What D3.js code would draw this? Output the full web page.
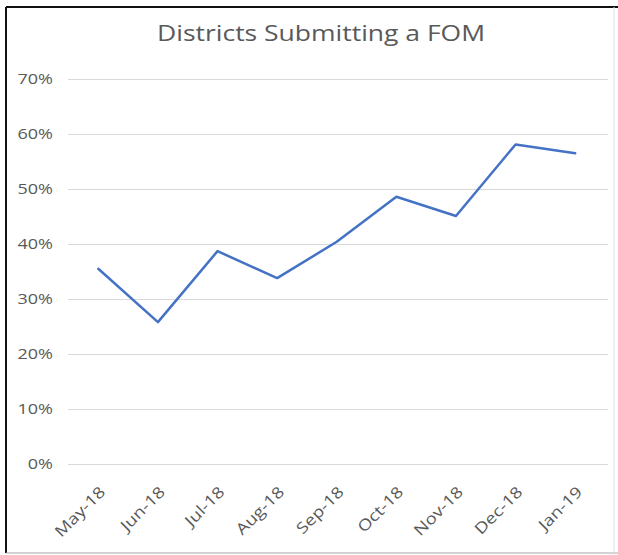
<!DOCTYPE html>
<html><head><meta charset="utf-8">
<script src="https://cdn.jsdelivr.net/npm/d3@7"></script>
<style>body{margin:0;background:#fff;}svg{display:block;}</style>
</head><body>
<svg id="c" width="618" height="555"></svg>
<script>
const categories = ["May-18","Jun-18","Jul-18","Aug-18","Sep-18","Oct-18","Nov-18","Dec-18","Jan-19"];
const values = [0.355, 0.258, 0.387, 0.338, 0.404, 0.486, 0.451, 0.581, 0.565];
const yTicks = [0, 0.1, 0.2, 0.3, 0.4, 0.5, 0.6, 0.7];
const title = "Districts Submitting a FOM";

const svg = d3.select("#c");
const font = "'Open Sans', 'Liberation Sans', sans-serif";
const stretch = 1.2;
function widen(sel, f) {
  sel.each(function() {
    const len = this.getComputedTextLength();
    d3.select(this).attr("textLength", len * f).attr("lengthAdjust", "spacingAndGlyphs");
  });
}

// frame
svg.append("line").attr("x1",6).attr("y1",7).attr("x2",618).attr("y2",7).attr("stroke","#111").attr("stroke-width",2);
svg.append("line").attr("x1",6).attr("y1",7).attr("x2",6).attr("y2",553).attr("stroke","#111").attr("stroke-width",2);
svg.append("line").attr("x1",6).attr("y1",553).attr("x2",618).attr("y2",553).attr("stroke","#a6a6a6").attr("stroke-width",1);
svg.append("line").attr("x1",614).attr("y1",7).attr("x2",614).attr("y2",553).attr("stroke","#e0e0e0").attr("stroke-width",1);

const x = d3.scaleBand().domain(categories).range([68.5, 605]);
const y = d3.scaleLinear().domain([0, 0.7]).range([464, 79]);

// gridlines
svg.append("g").selectAll("line").data(yTicks).join("line")
  .attr("x1", 68).attr("x2", 608)
  .attr("y1", d => Math.round(y(d)) + 0.5).attr("y2", d => Math.round(y(d)) + 0.5)
  .attr("stroke", "#d9d9d9").attr("stroke-width", 1);

// y axis labels
const yAxis = d3.axisLeft(y).tickValues(yTicks).tickFormat(d3.format(".0%")).tickSize(0).tickPadding(0);
const gy = svg.append("g").attr("transform", "translate(53,0)").call(yAxis);
gy.select(".domain").remove();
gy.selectAll("text").attr("font-family", font).attr("font-size", 15).attr("fill", "#595959");
widen(gy.selectAll("text"), stretch);

// x axis labels
const xAxis = d3.axisBottom(x).tickSize(0).tickPadding(0);
const gx = svg.append("g").attr("transform", "translate(0,464)").call(xAxis);
gx.select(".domain").remove();
gx.selectAll("text")
  .attr("font-family", font).attr("font-size", 15.5).attr("fill", "#595959")
  .attr("text-anchor", "end").attr("y", 0).attr("dy", 0)
  .attr("transform", "translate(8,29) rotate(-45)");
widen(gx.selectAll("text"), stretch);

// line
const line = d3.line().x((d,i) => x(categories[i]) + x.bandwidth()/2).y(d => y(d));
svg.append("path").datum(values).attr("d", line)
  .attr("fill", "none").attr("stroke", "#4472C4").attr("stroke-width", 2.5)
  .attr("stroke-linejoin", "round").attr("stroke-linecap", "round");

// title
const t = svg.append("text").attr("x", 321).attr("y", 41).attr("text-anchor", "middle")
  .attr("font-family", font).attr("font-size", 22).attr("fill", "#595959").text(title);
t.attr("textLength", 328).attr("lengthAdjust", "spacingAndGlyphs");
</script>
</body></html>
